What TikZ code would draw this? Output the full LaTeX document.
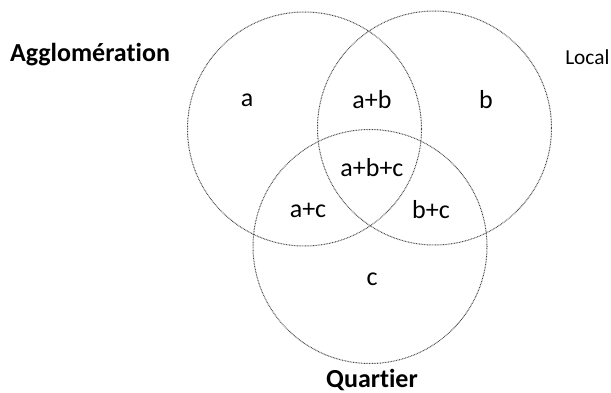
\documentclass[tikz,border=0pt]{standalone}
\usepackage{fontspec}
\setmainfont{Carlito}[Ligatures={NoCommon}]
\usepackage{tikz}
\usetikzlibrary{positioning}
\definecolor{ringcol}{RGB}{70,70,70}
\tikzset{
  ring/.style={circle, draw=ringcol, dash pattern=on 0.6pt off 0.6pt, line width=0.75pt, minimum size=175.5pt, inner sep=0pt},
  zone/.style={font=\fontsize{19.5}{22}\selectfont, inner sep=0pt},
  tag/.style={font=\fontsize{19.5}{22}\selectfont\bfseries, inner sep=0pt},
}

\begin{document}
\begin{tikzpicture}[x=0.75pt, y=-0.75pt]
  \useasboundingbox (0,0) rectangle (611,393);
  \node[ring] (agg) at (304.5,129) {};
  \node[ring] (loc) at (434.5,128) {};
  \node[ring] (qua) at (370,246.5) {};
  \node[zone] (a) at (247,100) {a};
  \node[zone] (ab) at (372,100) {a+b};
  \node[zone] (b) at (486,100) {b};
  \node[zone] (abc) at (372,168) {a+b+c};
  \node[zone] (ac) at (308,210) {a+c};
  \node[zone] (bc) at (431,210) {b+c};
  \node[zone] (c) at (372,279) {c};
  \node[tag] (tagg) at (90,55) {Agglomération};
  \node[zone, font=\fontsize{16}{18}\selectfont, anchor=west] (tloc) at (565,57) {Local};
  \node[tag] (tqua) at (372,380) {Quartier};
\end{tikzpicture}
\end{document}
